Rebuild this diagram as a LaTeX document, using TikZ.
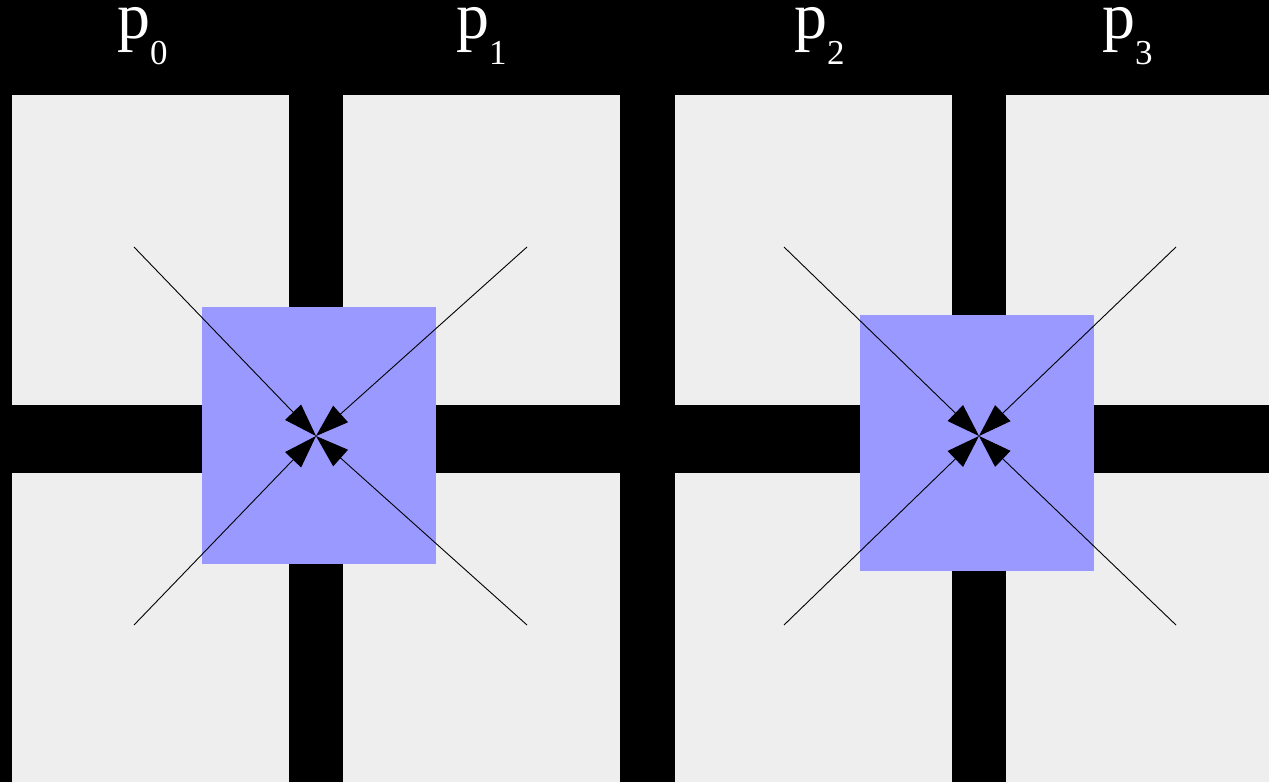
\documentclass[tikz,border=0pt]{standalone}
\usepackage{fontspec}
\setmainfont{Liberation Serif}
\usetikzlibrary{arrows.meta}
\definecolor{cell}{HTML}{EEEEEE}
\definecolor{halo}{HTML}{9999FF}
\tikzset{
  cellbox/.style={fill=cell},
  halobox/.style={fill=halo, draw=none, inner sep=0pt, outer sep=0pt},
  flow/.style={line width=0.9pt, -{Triangle[length=33pt,width=22pt]}},
  lbl/.style={text=white, anchor=base west, inner sep=0pt, font=\fontsize{66}{66}\selectfont}
}
\newcommand{\plab}[1]{p\raisebox{-26pt}{\fontsize{35}{35}\selectfont #1}}
\begin{document}
\begin{tikzpicture}[x=1pt,y=-1pt]
\fill[black] (0,0) rectangle (1269,782);
\useasboundingbox (0,0) rectangle (1269,782);
% cells
\foreach \xa/\xb in {12/289,343/620,675/952,1006/1269}{
  \fill[cellbox] (\xa,95) rectangle (\xb,405);
  \fill[cellbox] (\xa,473) rectangle (\xb,782);
}
% halos
\node[halobox, minimum width=234pt, minimum height=257pt] (h1) at (318.5,435.5) {};
\node[halobox, minimum width=234pt, minimum height=256pt] (h2) at (976.5,443) {};
% centers and line starts
\coordinate (c1) at (316,436);
\coordinate (c2) at (979,436);
\coordinate (a1) at (134,247);
\coordinate (a2) at (527,247);
\coordinate (a3) at (134,625);
\coordinate (a4) at (527,625);
\coordinate (b1) at (784,247);
\coordinate (b2) at (1176,247);
\coordinate (b3) at (784,625);
\coordinate (b4) at (1176,625);
\foreach \s in {a1,a2,a3,a4} \draw[flow] (\s) -- (c1);
\foreach \s in {b1,b2,b3,b4} \draw[flow] (\s) -- (c2);
% labels
\node[lbl] (l0) at (117,38) {\plab{0}};
\node[lbl] (l1) at (456,38) {\plab{1}};
\node[lbl] (l2) at (794,38) {\plab{2}};
\node[lbl] (l3) at (1102,38) {\plab{3}};
\end{tikzpicture}
\end{document}
